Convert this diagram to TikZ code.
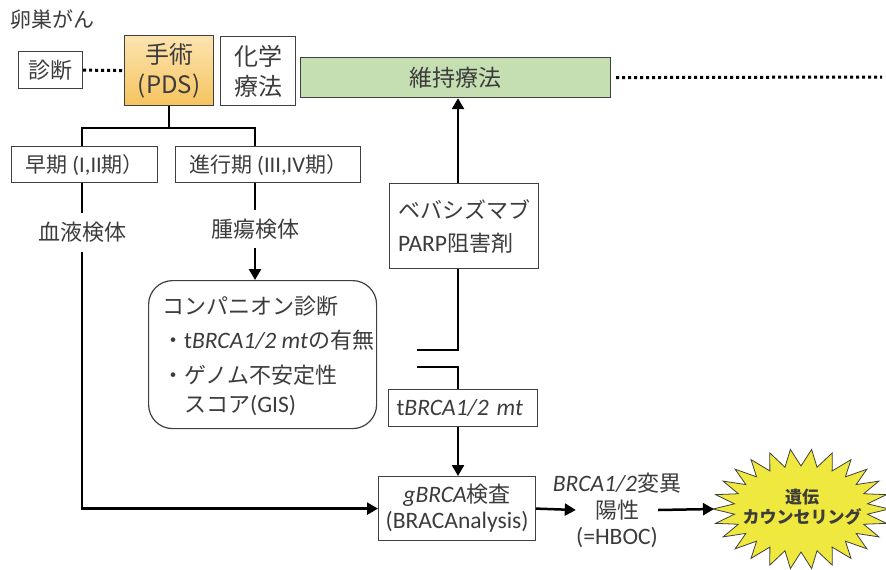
\documentclass[tikz,border=0pt]{standalone}
\usepackage{fontspec}
\setmainfont{Carlito}[Scale=1.07]
\newfontfamily\jp{Noto Sans CJK JP}
\usetikzlibrary{arrows.meta,calc}
\definecolor{txt}{HTML}{3C3C3C}
\definecolor{boxline}{HTML}{404040}
\definecolor{greenfill}{HTML}{C5DFB3}
\definecolor{orgtop}{HTML}{FCE4B0}
\definecolor{orgbot}{HTML}{F6C45F}
\definecolor{starfill}{HTML}{EFE83F}
\begin{document}
\begin{tikzpicture}[x=1pt,y=-1pt,
  font=\fontsize{22}{26}\selectfont, text=txt,
  box/.style={draw=boxline, line width=1.2pt, fill=white, inner sep=0pt, text=txt, anchor=north west},
  lbl/.style={inner sep=0pt, text=txt, font=\jp\fontsize{22}{26}\selectfont},
  conn/.style={line width=2.5pt, draw=black},
  arr/.style={conn, -{Triangle[length=11pt,width=12pt]}},
  dotline/.style={line width=3pt, draw=black, dash pattern=on 3pt off 3pt},
]
\useasboundingbox (0,0) rectangle (886,570);

% title
\node[lbl, anchor=west, font=\jp\fontsize{21}{24}\selectfont] (title) at (10,20) {卵巣がん};

% top row
\node[box, minimum width=64pt, minimum height=37pt] (diag) at (18,51) {\jp 診断};
\node[box, top color=orgtop, bottom color=orgbot, minimum width=89pt, minimum height=70pt,
      align=center, font=\jp\fontsize{24}{30}\selectfont] (pds) at (124,35) {手術\\(PDS)};
\node[box, minimum width=75pt, minimum height=69pt, align=center,
      font=\jp\fontsize{24}{30}\selectfont] (chemo) at (220,36) {化学\\療法};
\node[box, fill=greenfill, minimum width=310pt, minimum height=40pt,
      font=\jp\fontsize{23}{26}\selectfont] (maint) at (300,57) {維持療法};
\coordinate (dotend) at (882,77);
\draw[dotline] (diag.east) -- (pds.west);
\draw[dotline] ($(maint.east)+(5,0)$) -- (dotend);

% stage boxes
\node[box, minimum width=146pt, minimum height=36pt, font=\fontsize{21}{24}\selectfont]
  (early) at (11,146) {{\jp 早期} (I,II{\jp 期）}};
\node[box, minimum width=185pt, minimum height=36pt, font=\fontsize{21}{24}\selectfont]
  (adv) at (175,146) {{\jp 進行期} (III,IV{\jp 期）}};

\coordinate (tl) at (82,128);
\coordinate (tr) at (255,128);
\draw[conn] (pds.south) -- (pds.south |- tl);
\draw[conn] (early.north -| tl) -- (tl) -- (tr) -- (adv.north -| tr);

% specimen labels
\node[lbl, minimum height=39pt] (blood) at (82,232.5) {血液検体};
\node[lbl, minimum height=38pt] (tumor) at (255,229) {腫瘍検体};
\draw[conn] (early.south -| tl) -- (blood.north);
\draw[conn] (adv.south -| tr) -- (tumor.north);

% companion diagnostics
\node[box, rounded corners=24pt, minimum width=228pt, minimum height=148pt] (cdx) at (148,280) {};
\draw[arr] (tumor.south) -- (cdx.north -| tumor.south);
\node[lbl, anchor=west] (cd1) at (162,306) {コンパニオン診断};
\node[lbl, anchor=west, font=\fontsize{22}{26}\selectfont] (cd2) at (162,340) {{\jp ・}t\textit{BRCA1/2 mt}{\jp の有無}};
\node[lbl, anchor=west] (cd3) at (162,375) {・ゲノム不安定性};
\node[lbl, anchor=west, font=\fontsize{22}{26}\selectfont] (cd4) at (184,406) {{\jp スコア}(GIS)};

% maintenance branch
\node[box, minimum width=149pt, minimum height=85pt, align=left,
      font=\fontsize{22}{33}\selectfont] (bev) at (389,183) {{\jp ベバシズマブ}\\PARP{\jp 阻害剤}};
\node[box, text width=133pt, inner xsep=8pt, minimum height=37pt, align=left,
      font=\fontsize{22}{26}\selectfont] (tb) at (388,389) {t\textit{BRCA1/2 mt}};
\node[box, minimum width=157pt, minimum height=64pt, align=center,
      font=\fontsize{22}{26}\selectfont] (gb) at (378,476) {\textit{gBRCA}{\jp 検査}\\(BRACAnalysis)};

\coordinate (v1) at (458,350);
\coordinate (v1e) at (417,350);
\coordinate (v2) at (458,367);
\coordinate (v2e) at (417,367);
\draw[arr] (bev.north -| v1) -- (maint.south -| v1);
\draw[conn] (bev.south -| v1) -- (v1) -- (v1e);
\draw[conn] (v2e) -- (v2) -- (tb.north -| v2);
\draw[arr] (tb.south -| v2) -- (gb.north -| v2);
\draw[arr] (blood.south) |- (gb.west);

% HBOC
\node[lbl, font=\fontsize{22}{26}\selectfont] (hb1) at (617,483) {\textit{BRCA1/2}{\jp 変異}};
\node[lbl, inner xsep=19pt] (hb2) at (617,510) {陽性};
\node[lbl, font=\fontsize{22}{26}\selectfont] (hb3) at (617,538) {(=HBOC)};
\draw[arr] (gb.east) -- (hb2.west);

% starburst
\begin{scope}[shift={(801,509)}]
\fill[starfill, draw=boxline, line width=0.8pt] (0:88 and 60)
  \foreach \i in {0,...,25} {
    -- ({(\i+0.5)*360/26}:67 and 43) -- ({(\i+1)*360/26}:88 and 60)
  } -- cycle;
\end{scope}
\coordinate (starL) at (714,509);
\draw[arr] (hb2.east) -- (starL);
\node[lbl, align=center, font=\jp\bfseries\fontsize{17}{20}\selectfont] (gc) at (802,507) {遺伝\\カウンセリング};
\end{tikzpicture}
\end{document}
